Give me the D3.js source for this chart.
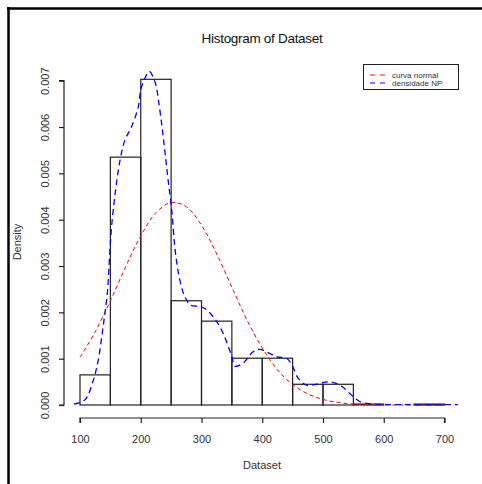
<!DOCTYPE html>
<html>
<head>
<meta charset="utf-8">
<script src="https://cdn.jsdelivr.net/npm/d3@7"></script>
<style>
  html, body { margin: 0; padding: 0; background: #fff; }
  svg { display: block; font-family: "Liberation Sans", Arial, sans-serif; }
</style>
</head>
<body>
<svg id="chart" width="482" height="484"></svg>
<script>
// ---- data ----
const binStarts = [100, 150, 200, 250, 300, 350, 400, 450, 500, 550, 600, 650];
const binWidth = 50;
const densities = [0.00065, 0.00535, 0.00703, 0.00225, 0.00181, 0.00101, 0.00101, 0.000447, 0.000447, 0.00002, 0, 0.00002];

const normalX = [100,125,150,175,200,225,250,275,300,325,350,375,400,425,450,475,500,525,550,575,600,625,650,675,700];
const normalY = [0.00103,0.00158,0.00225,0.00298,0.00365,0.00415,0.00437,0.00428,0.00388,0.00326,0.00254,0.00183,0.00123,0.00076,0.00044,0.00024,0.00012,0.000054,0.000023,0.000009,0.000003,0.000001,0,0,0];

const kdeX = [90,108,122,130,138,145,149,152,158,166,174,185,196,200,207,214,224,229,235,240,245,251,256,262,270,277,281,303,319,333,342,350,355,369,385,396,424,440,449,459,473,490,509,528,544,561,582,627,680,722];
const kdeY = [0.00002,0.00011,0.00054,0.00097,0.00169,0.00242,0.00328,0.00385,0.00458,0.00529,0.00572,0.00601,0.00644,0.00680,0.00706,0.00720,0.00695,0.00659,0.00601,0.00544,0.00486,0.00421,0.00342,0.00285,0.00242,0.00223,0.00216,0.00210,0.00191,0.00162,0.00134,0.00104,0.00084,0.00091,0.00115,0.00120,0.00104,0.00101,0.00086,0.00058,0.00043,0.00045,0.00050,0.00043,0.00025,0.00007,0.00002,0.00001,0.00001,0.00001];

const xTicks = [100, 200, 300, 400, 500, 600, 700];
const yTicks = [0, 0.001, 0.002, 0.003, 0.004, 0.005, 0.006, 0.007];
const legendLabels = ["curva normal", "densidade NP"];
const legendColors = ["#ff0000", "#0000ff"];

// ---- drawing ----
const svg = d3.select("#chart");
const x = d3.scaleLinear().domain([100, 700]).range([80, 444.5]);
const y = d3.scaleLinear().domain([0, 0.007]).range([405, 80.7]);

// frame lines (top and left)
svg.append("line").attr("x1", 7).attr("x2", 482).attr("y1", 8.5).attr("y2", 8.5)
  .attr("stroke", "#000").attr("stroke-width", 2.5);
svg.append("line").attr("x1", 8.5).attr("x2", 8.5).attr("y1", 7).attr("y2", 484)
  .attr("stroke", "#000").attr("stroke-width", 2.5);

// title
svg.append("text").attr("x", 262).attr("y", 43).attr("text-anchor", "middle")
  .attr("font-size", 13.5).attr("letter-spacing", -0.3).attr("fill", "#111")
  .text("Histogram of Dataset");

// bars
svg.append("g").selectAll("rect").data(binStarts).join("rect")
  .attr("x", (d) => x(d))
  .attr("width", (d) => x(d + binWidth) - x(d))
  .attr("y", (d, i) => y(densities[i]))
  .attr("height", (d, i) => y(0) - y(densities[i]))
  .attr("fill", "none").attr("stroke", "#222").attr("stroke-width", 1.2);

// x axis
const xAxis = d3.axisBottom(x).tickValues(xTicks).tickSize(5).tickFormat(d3.format("d"));
const gx = svg.append("g").attr("transform", "translate(0,418)").call(xAxis);
gx.select(".domain").attr("d", `M${x(100)},5V0H${x(700)}V5`).attr("stroke", "#222").attr("stroke-width", 1.2);
gx.selectAll(".tick line").attr("stroke", "#222").attr("stroke-width", 1.2);
gx.selectAll(".tick text").attr("font-size", 11).attr("font-family", "Liberation Sans, Arial, sans-serif")
  .attr("fill", "#333").attr("dy", null).attr("y", 25);

// y axis
const yAxis = d3.axisLeft(y).tickValues(yTicks).tickSize(5).tickFormat(d3.format(".3f"));
const gy = svg.append("g").attr("transform", "translate(64,0)").call(yAxis);
gy.select(".domain").attr("d", `M-5,${y(0)}H0V${y(0.007)}H-5`).attr("stroke", "#222").attr("stroke-width", 1.2);
gy.selectAll(".tick line").attr("stroke", "#222").attr("stroke-width", 1.2);
gy.selectAll(".tick text").attr("font-size", 11).attr("font-family", "Liberation Sans, Arial, sans-serif")
  .attr("fill", "#333").attr("x", null).attr("dy", null)
  .attr("transform", "translate(-15,0) rotate(-90)").attr("text-anchor", "middle");

// axis titles
svg.append("text").attr("x", 262).attr("y", 469).attr("text-anchor", "middle")
  .attr("font-size", 11).attr("fill", "#333").text("Dataset");
svg.append("text").attr("transform", "translate(21,242) rotate(-90)").attr("text-anchor", "middle")
  .attr("font-size", 11).attr("fill", "#333").text("Density");

// normal curve
const line = d3.line().x((d) => x(d[0])).y((d) => y(d[1])).curve(d3.curveCatmullRom.alpha(0.5));
svg.append("path").datum(normalX.map((v, i) => [v, normalY[i]]))
  .attr("d", line).attr("fill", "none").attr("stroke", "#ff0000")
  .attr("stroke-width", 1).attr("stroke-dasharray", "4,3");

// kde curve
svg.append("path").datum(kdeX.map((v, i) => [v, kdeY[i]]))
  .attr("d", line).attr("fill", "none").attr("stroke", "#0000ff")
  .attr("stroke-width", 1.3).attr("stroke-dasharray", "6,4");

// legend
const lg = svg.append("g");
lg.append("rect").attr("x", 363.5).attr("y", 64.5).attr("width", 95).attr("height", 25)
  .attr("fill", "#fff").attr("stroke", "#222").attr("stroke-width", 1);
legendLabels.forEach((lab, i) => {
  const ly = 75 + i * 8;
  lg.append("line").attr("x1", 370).attr("x2", 386).attr("y1", ly).attr("y2", ly)
    .attr("stroke", legendColors[i]).attr("stroke-width", 1.2).attr("stroke-dasharray", "5,5");
  lg.append("text").attr("x", 392).attr("y", ly + 3).attr("font-size", 8).attr("fill", "#333").text(lab);
});
</script>
</body>
</html>
